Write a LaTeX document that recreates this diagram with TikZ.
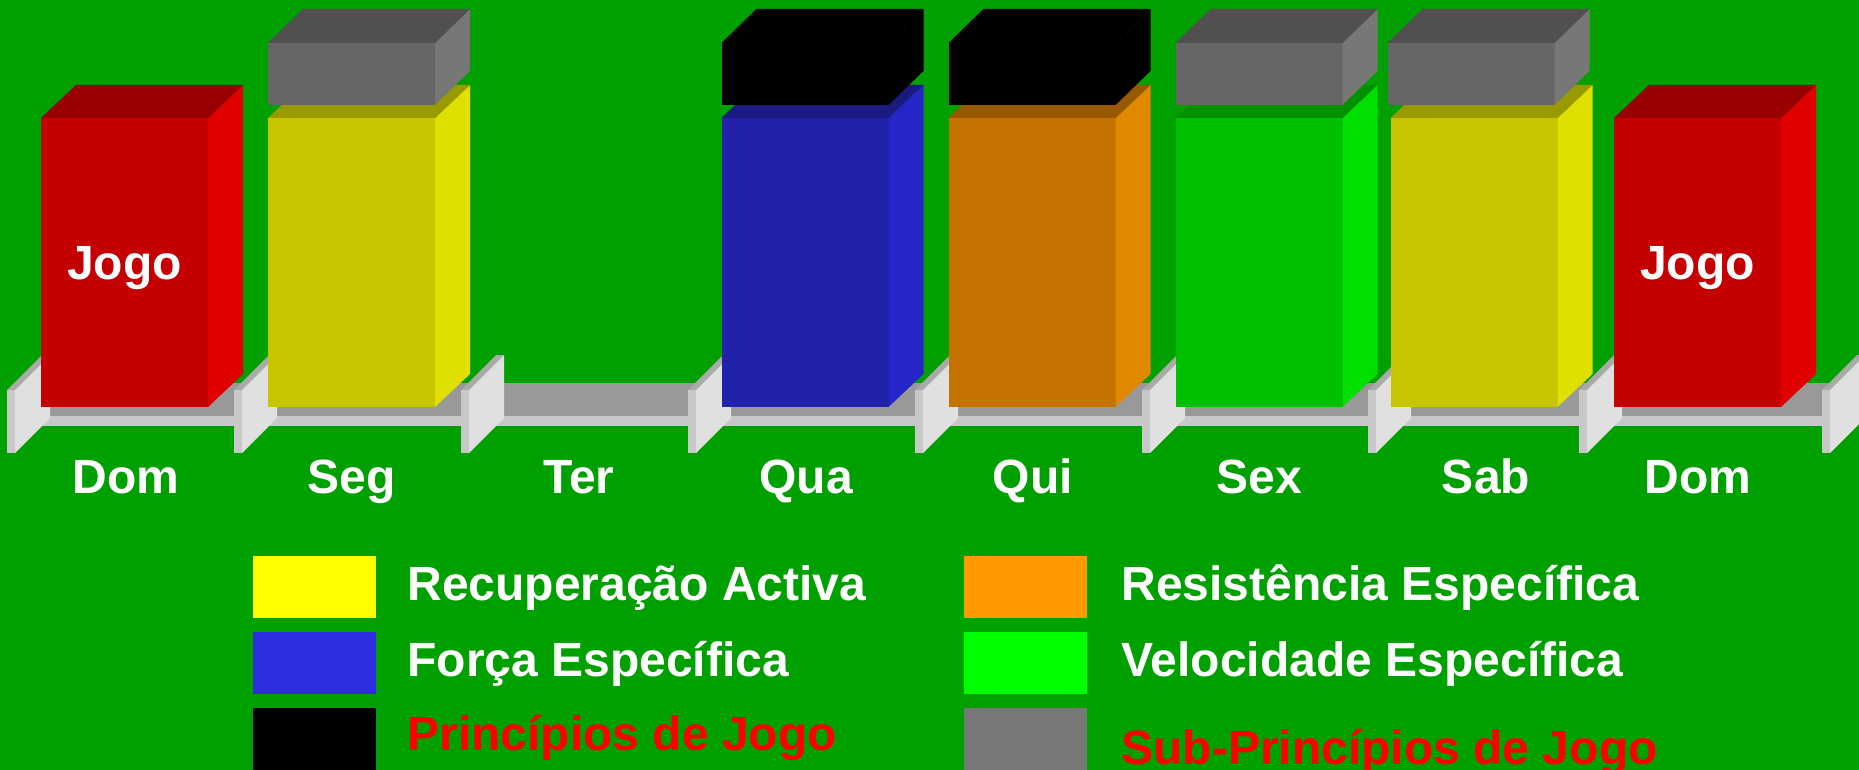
\documentclass[tikz,border=0pt]{standalone}
\usepackage{fontspec}
\setmainfont{Liberation Sans}
\definecolor{bggreen}{HTML}{00A000}
\definecolor{redfront}{HTML}{C40000}
\definecolor{redside}{HTML}{E00000}
\definecolor{redtop}{HTML}{990000}
\definecolor{yelfront}{HTML}{C8C400}
\definecolor{yelside}{HTML}{E0E000}
\definecolor{yeltop}{HTML}{999900}
\definecolor{bluefront}{HTML}{2121AA}
\definecolor{blueside}{HTML}{2626C8}
\definecolor{bluetop}{HTML}{1A1A80}
\definecolor{orafront}{HTML}{C47300}
\definecolor{oraside}{HTML}{E08800}
\definecolor{oratop}{HTML}{995900}
\definecolor{grnfront}{HTML}{00C000}
\definecolor{grnside}{HTML}{00E000}
\definecolor{grntop}{HTML}{009000}
\definecolor{grayfront}{HTML}{666666}
\definecolor{grayside}{HTML}{777777}
\definecolor{graytop}{HTML}{505050}
\definecolor{tracktop}{HTML}{999999}
\definecolor{trackfront}{HTML}{C8C8C8}
\definecolor{platetop}{HTML}{AAAAAA}
\definecolor{plateside}{HTML}{E0E0E0}
\definecolor{plateedge}{HTML}{C8C8C8}
\definecolor{keyyellow}{HTML}{FFFF00}
\definecolor{keyblue}{HTML}{2E2EE0}
\definecolor{keyorange}{HTML}{FF9900}
\definecolor{keygreen}{HTML}{00FF00}
\definecolor{keygray}{HTML}{787878}
\definecolor{keyred}{HTML}{FF0000}
\tikzset{
  lbl/.style={draw=none,inner sep=0pt,text=white,font=\fontsize{24.1}{29}\selectfont\bfseries},
  boxface/.style={lbl,outer sep=0pt,minimum width=83.5bp,minimum height=144.5bp,text depth=0pt},
  lidface/.style={draw=none,inner sep=0pt,outer sep=0pt,minimum width=83.5bp,minimum height=31bp},
  swatch/.style={draw=none,inner sep=0pt,outer sep=0pt,minimum width=61.5bp,minimum height=31bp},
}
\begin{document}
\begin{tikzpicture}[x=0.5bp,y=-0.5bp]
%%
\useasboundingbox (0,0) rectangle (1859,770);
\fill [bggreen] (0,0) rectangle (1859,770);
% track
\fill [tracktop] (15,416) -- (50,383) -- (1859,383) -- (1859,416) -- cycle;
\fill [trackfront] (7,416) rectangle (1830,426);
% plates
\fill [platetop] (7,390) -- ++(35,-35) -- ++(8,0) -- ++(-35,35) -- cycle;
\fill [plateside] (15,390) -- ++(35,-35) -- ++(0,63) -- ++(-35,35) -- cycle;
\fill [plateedge] (7,390) rectangle ++(8,63);
\fill [platetop] (234,390) -- ++(35,-35) -- ++(8,0) -- ++(-35,35) -- cycle;
\fill [plateside] (242,390) -- ++(35,-35) -- ++(0,63) -- ++(-35,35) -- cycle;
\fill [plateedge] (234,390) rectangle ++(8,63);
\fill [platetop] (461,390) -- ++(35,-35) -- ++(8,0) -- ++(-35,35) -- cycle;
\fill [plateside] (469,390) -- ++(35,-35) -- ++(0,63) -- ++(-35,35) -- cycle;
\fill [plateedge] (461,390) rectangle ++(8,63);
\fill [platetop] (688,390) -- ++(35,-35) -- ++(8,0) -- ++(-35,35) -- cycle;
\fill [plateside] (696,390) -- ++(35,-35) -- ++(0,63) -- ++(-35,35) -- cycle;
\fill [plateedge] (688,390) rectangle ++(8,63);
\fill [platetop] (915,390) -- ++(35,-35) -- ++(8,0) -- ++(-35,35) -- cycle;
\fill [plateside] (923,390) -- ++(35,-35) -- ++(0,63) -- ++(-35,35) -- cycle;
\fill [plateedge] (915,390) rectangle ++(8,63);
\fill [platetop] (1142,390) -- ++(35,-35) -- ++(8,0) -- ++(-35,35) -- cycle;
\fill [plateside] (1150,390) -- ++(35,-35) -- ++(0,63) -- ++(-35,35) -- cycle;
\fill [plateedge] (1142,390) rectangle ++(8,63);
\fill [platetop] (1368,390) -- ++(35,-35) -- ++(8,0) -- ++(-35,35) -- cycle;
\fill [plateside] (1376,390) -- ++(35,-35) -- ++(0,63) -- ++(-35,35) -- cycle;
\fill [plateedge] (1368,390) rectangle ++(8,63);
\fill [platetop] (1579,390) -- ++(35,-35) -- ++(8,0) -- ++(-35,35) -- cycle;
\fill [plateside] (1587,390) -- ++(35,-35) -- ++(0,63) -- ++(-35,35) -- cycle;
\fill [plateedge] (1579,390) rectangle ++(8,63);
\fill [platetop] (1822,390) -- ++(35,-35) -- ++(8,0) -- ++(-35,35) -- cycle;
\fill [plateside] (1830,390) -- ++(35,-35) -- ++(0,63) -- ++(-35,35) -- cycle;
\fill [plateedge] (1822,390) rectangle ++(8,63);
% boxes
\node (box_0) at (124.5,262.5) [boxface,fill=redfront] {Jogo};
\fill [redside] (box_0.south east) -- ++(35,-33) -- ++(0,-289) -- (box_0.north east) -- cycle;
\fill [redtop] (box_0.north west) -- ++(35,-33) -- ++(167,0) -- (box_0.north east) -- cycle;
\node (box_1) at (351.5,262.5) [boxface,fill=yelfront] {};
\fill [yelside] (box_1.south east) -- ++(35,-33) -- ++(0,-289) -- (box_1.north east) -- cycle;
\fill [yeltop] (box_1.north west) -- ++(35,-33) -- ++(167,0) -- (box_1.north east) -- cycle;
\node (box_2) at (805,262.5) [boxface,fill=bluefront] {};
\fill [blueside] (box_2.south east) -- ++(35,-33) -- ++(0,-289) -- (box_2.north east) -- cycle;
\fill [bluetop] (box_2.north west) -- ++(35,-33) -- ++(167,0) -- (box_2.north east) -- cycle;
\node (box_3) at (1032,262.5) [boxface,fill=orafront] {};
\fill [oraside] (box_3.south east) -- ++(35,-33) -- ++(0,-289) -- (box_3.north east) -- cycle;
\fill [oratop] (box_3.north west) -- ++(35,-33) -- ++(167,0) -- (box_3.north east) -- cycle;
\node (box_4) at (1259,262.5) [boxface,fill=grnfront] {};
\fill [grnside] (box_4.south east) -- ++(35,-33) -- ++(0,-289) -- (box_4.north east) -- cycle;
\fill [grntop] (box_4.north west) -- ++(35,-33) -- ++(167,0) -- (box_4.north east) -- cycle;
\node (box_5) at (1474,262.5) [boxface,fill=yelfront] {};
\fill [yelside] (box_5.south east) -- ++(35,-33) -- ++(0,-289) -- (box_5.north east) -- cycle;
\fill [yeltop] (box_5.north west) -- ++(35,-33) -- ++(167,0) -- (box_5.north east) -- cycle;
\node (box_6) at (1697.5,262.5) [boxface,fill=redfront] {Jogo};
\fill [redside] (box_6.south east) -- ++(35,-33) -- ++(0,-289) -- (box_6.north east) -- cycle;
\fill [redtop] (box_6.north west) -- ++(35,-33) -- ++(167,0) -- (box_6.north east) -- cycle;
% lids
\node (lid_0) at (351.5,74) [lidface,fill=grayfront] {};
\fill [grayside] (lid_0.south east) -- ++(35,-34) -- ++(0,-62) -- (lid_0.north east) -- cycle;
\fill [graytop] (lid_0.north west) -- ++(35,-34) -- ++(167,0) -- (lid_0.north east) -- cycle;
\node (lid_1) at (805,74) [lidface,fill=black] {};
\fill [black] (lid_1.south east) -- ++(35,-34) -- ++(0,-62) -- (lid_1.north east) -- cycle;
\fill [black] (lid_1.north west) -- ++(35,-34) -- ++(167,0) -- (lid_1.north east) -- cycle;
\node (lid_2) at (1032,74) [lidface,fill=black] {};
\fill [black] (lid_2.south east) -- ++(35,-34) -- ++(0,-62) -- (lid_2.north east) -- cycle;
\fill [black] (lid_2.north west) -- ++(35,-34) -- ++(167,0) -- (lid_2.north east) -- cycle;
\node (lid_3) at (1259,74) [lidface,fill=grayfront] {};
\fill [grayside] (lid_3.south east) -- ++(35,-34) -- ++(0,-62) -- (lid_3.north east) -- cycle;
\fill [graytop] (lid_3.north west) -- ++(35,-34) -- ++(167,0) -- (lid_3.north east) -- cycle;
\node (lid_4) at (1471,74) [lidface,fill=grayfront] {};
\fill [grayside] (lid_4.south east) -- ++(35,-34) -- ++(0,-62) -- (lid_4.north east) -- cycle;
\fill [graytop] (lid_4.north west) -- ++(35,-34) -- ++(167,0) -- (lid_4.north east) -- cycle;
% days
\node (day_0) at (126,493) [lbl,anchor=base] {Dom};
\node (day_1) at (352,493) [lbl,anchor=base] {Seg};
\node (day_2) at (579,493) [lbl,anchor=base] {Ter};
\node (day_3) at (806,493) [lbl,anchor=base] {Qua};
\node (day_4) at (1033,493) [lbl,anchor=base] {Qui};
\node (day_5) at (1259,493) [lbl,anchor=base] {Sex};
\node (day_6) at (1486,493) [lbl,anchor=base] {Sab};
\node (day_7) at (1698,493) [lbl,anchor=base] {Dom};
% legend
\node (key_0) at (314.5,587) [swatch,fill=keyyellow] {};
\node (key_1) at (314.5,663) [swatch,fill=keyblue] {};
\node (key_2) at (314.5,739) [swatch,fill=black] {};
\node (key_3) at (1025,587) [swatch,fill=keyorange] {};
\node (key_4) at (1025,663) [swatch,fill=keygreen] {};
\node (key_5) at (1025,739) [swatch,fill=keygray] {};
\node (keytext_0) at (407,600) [lbl,anchor=base west] {Recuperação Activa};
\node (keytext_1) at (407,676) [lbl,anchor=base west] {Força Específica};
\node (keytext_2) at (407,750) [lbl,anchor=base west,text=keyred] {Princípios de Jogo};
\node (keytext_3) at (1121,600) [lbl,anchor=base west] {Resistência Específica};
\node (keytext_4) at (1121,676) [lbl,anchor=base west] {Velocidade Específica};
\node (keytext_5) at (1121,764) [lbl,anchor=base west,text=keyred] {Sub-Princípios de Jogo};
%
\end{tikzpicture}
\end{document}
